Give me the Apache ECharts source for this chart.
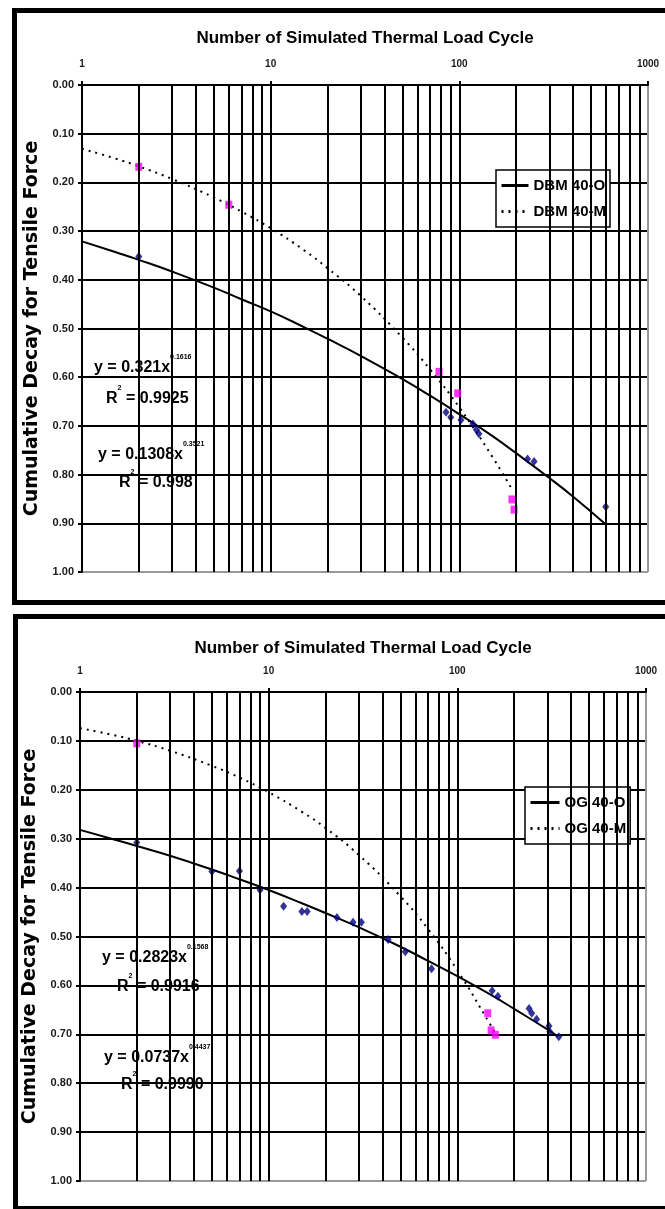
<!DOCTYPE html>
<html>
<head>
<meta charset="utf-8">
<script src="https://cdn.jsdelivr.net/npm/echarts@6/dist/echarts.min.js"></script>
<style>
html,body{margin:0;padding:0;background:#fff;}
#chart{width:665px;height:1209px;}
</style>
</head>
<body>
<div id="chart"></div>
<script>
// ---------- data ----------
const xTitle = 'Number of Simulated Thermal Load Cycle';
const yTitle = 'Cumulative Decay for Tensile Force';
const minorGridX = [2,3,4,5,6,7,8,9,20,30,40,50,60,70,80,90,200,300,400,500,600,700,800,900];

// Panel 1 (DBM)
const dbmONames = 'DBM 40-O';
const dbmMNames = 'DBM 40-M';
const dbmO_points = [[2,0.352],[85,0.672],[90,0.682],[102,0.688],[118,0.696],[123,0.708],[127,0.716],[230,0.768],[249,0.773],[597,0.866]];
const dbmM_points = [[2,0.168],[6,0.246],[78,0.589],[98,0.633],[190,0.851],[195,0.872]];
const dbmO_trend = [[1,0.321],[1.5,0.343],[2,0.359],[3,0.383],[5,0.416],[7,0.440],[10,0.465],[15,0.497],[20,0.521],[30,0.556],[50,0.604],[70,0.638],[100,0.676],[150,0.721],[200,0.756],[300,0.807],[400,0.845],[600,0.903]];
const dbmM_trend = [[1,0.131],[1.5,0.151],[2,0.167],[3,0.193],[5,0.231],[7,0.260],[10,0.294],[15,0.339],[20,0.376],[30,0.433],[50,0.519],[70,0.584],[100,0.662],[150,0.764],[190,0.830]];
const dbmEquations = ['0.321', '0.1616', '0.9925', '0.1308', '0.3521', '0.998'];

// Panel 2 (OG)
const ogONames = 'OG 40-O';
const ogMNames = 'OG 40-M';
const ogO_points = [[2,0.308],[5,0.367],[7,0.366],[9,0.405],[12,0.438],[15,0.449],[16,0.449],[23,0.461],[28,0.471],[31,0.471],[43,0.506],[53,0.531],[73,0.566],[153,0.611],[164,0.622],[240,0.647],[248,0.657],[263,0.669],[306,0.683],[309,0.695],[345,0.705]];
const ogM_points = [[2,0.105],[145,0.657],[151,0.692],[159,0.701]];
const ogO_trend = [[1,0.282],[1.5,0.301],[2,0.315],[3,0.335],[5,0.363],[7,0.383],[10,0.405],[15,0.432],[20,0.452],[30,0.481],[50,0.521],[70,0.550],[100,0.581],[150,0.619],[200,0.648],[300,0.690],[340,0.704]];
const ogM_trend = [[1,0.074],[1.5,0.088],[2,0.100],[3,0.120],[5,0.151],[7,0.175],[10,0.205],[15,0.245],[20,0.278],[30,0.333],[50,0.418],[70,0.485],[100,0.569],[150,0.681],[160,0.700]];
const ogEquations = ['0.2823', '0.1568', '0.9916', '0.0737', '0.4437', '0.9990'];

// ---------- styling ----------
const NARROW = "'Liberation Sans Narrow','Liberation Sans',Arial,sans-serif";
const SANS = "'Liberation Sans',Arial,sans-serif";
const BLUE = '#000080';
const PINK = '#ff00ff';

const grids = [
  {left: 82, top: 85, width: 566, height: 487},
  {left: 80, top: 692, width: 566, height: 489}
];

function xAxisCfg(i, gap){
  return {
    gridIndex: i, type: 'log', logBase: 10, min: 1, max: 1000, position: 'top',
    name: xTitle, nameLocation: 'middle', nameGap: gap,
    nameTextStyle: {fontFamily: SANS, fontSize: 17, fontWeight: 'bold', color: '#000'},
    axisLine: {show: true, lineStyle: {color: '#000', width: 2}},
    axisTick: {show: true, inside: false, length: 4, lineStyle: {color: '#000', width: 2}},
    axisLabel: {fontFamily: NARROW, fontSize: 10, fontWeight: 'bold', color: '#1a1a1a', margin: 16,
      formatter: v => String(Math.round(v))},
    splitLine: {show: true, lineStyle: {color: ['#000','#000','#000','#9a9a9a'], width: 2}},
    minorTick: {show: false}, minorSplitLine: {show: false}
  };
}
function yAxisCfg(i){
  const cols = []; for (let k = 0; k < 10; k++) cols.push('#000'); cols.push('#9a9a9a');
  return {
    gridIndex: i, type: 'value', inverse: true, min: 0, max: 1, interval: 0.1,
    name: yTitle, nameLocation: 'middle', nameGap: 33,
    nameTextStyle: {fontFamily: "'DejaVu Sans',sans-serif", fontSize: 19, fontWeight: 'bold', color: '#000'},
    axisLine: {show: true, lineStyle: {color: '#000', width: 2}},
    axisTick: {show: true, inside: false, length: 4, lineStyle: {color: '#000', width: 2}},
    axisLabel: {fontFamily: NARROW, fontSize: 11, fontWeight: 'bold', color: '#1a1a1a', margin: 8,
      formatter: v => v.toFixed(2)},
    splitLine: {show: true, lineStyle: {color: cols, width: 2}}
  };
}

function panelSeries(i, oName, mName, oPts, mPts, oTrend, mTrend){
  return [
    {type: 'line', xAxisIndex: i, yAxisIndex: i, data: [], z: 1, silent: true,
     markLine: {silent: true, symbol: ['none','none'], label: {show: false},
       lineStyle: {color: '#000', width: 2, type: 'solid'},
       emphasis: {disabled: true},
       data: minorGridX.map(v => ({xAxis: v}))}},
    {name: oName, type: 'line', xAxisIndex: i, yAxisIndex: i, data: oTrend, smooth: true,
     symbol: 'none', z: 3, itemStyle: {color: '#000'}, lineStyle: {color: '#000', width: 2, type: 'solid'}},
    {name: mName, type: 'line', xAxisIndex: i, yAxisIndex: i, data: mTrend, smooth: true,
     symbol: 'none', z: 3, itemStyle: {color: '#000'}, lineStyle: {color: '#000', width: 2, type: [2, 5]}},
    {name: oName + ' data', type: 'scatter', xAxisIndex: i, yAxisIndex: i, data: oPts,
     symbol: 'diamond', symbolSize: [7, 9], z: 4, itemStyle: {color: BLUE}},
    {name: mName + ' data', type: 'scatter', xAxisIndex: i, yAxisIndex: i, data: mPts,
     symbol: 'rect', symbolSize: [7, 8], z: 4, itemStyle: {color: PINK}}
  ];
}

function legendCfg(names, left, top, w){
  return {
    data: names, orient: 'vertical', left: left, top: top,
    backgroundColor: '#fff', borderColor: '#000', borderWidth: 1.5, borderRadius: 0,
    padding: [8, 4, 8, 4], itemGap: 11, itemWidth: w, itemHeight: 12,
    itemStyle: {opacity: 0},
    lineStyle: {width: 3, color: '#000'},
    textStyle: {fontFamily: SANS, fontSize: 15, fontWeight: 'bold', color: '#000'},
    selectedMode: false
  };
}

const RICH = {
  n: {fontFamily: SANS, fontSize: 16, fontWeight: 'bold', fill: '#000', lineHeight: 22, verticalAlign: 'bottom'},
  s: {fontFamily: SANS, fontSize: 7, fontWeight: 'bold', fill: '#000', lineHeight: 8, verticalAlign: 'top'}
};
function eqText(x, y, coef, expo){
  return {type: 'text', x: x, y: y, z: 10, silent: true,
    style: {text: '{n|y = ' + coef + 'x}{s|' + expo + '}', verticalAlign: 'middle', rich: RICH}};
}
function r2Text(x, y, val){
  return {type: 'text', x: x, y: y, z: 10, silent: true,
    style: {text: '{n|R}{s|2}{n| = ' + val + '}', verticalAlign: 'middle', rich: RICH}};
}

const chart = echarts.init(document.getElementById('chart'), null, {renderer: 'canvas'});
chart.setOption({
  animation: false,
  backgroundColor: '#fff',
  grid: grids,
  xAxis: [xAxisCfg(0, 38), xAxisCfg(1, 35)],
  yAxis: [yAxisCfg(0), yAxisCfg(1)],
  legend: [
    legendCfg([dbmONames, dbmMNames], 496, 170, 27),
    legendCfg([ogONames, ogMNames], 525, 787, 29)
  ],
  series: [].concat(
    panelSeries(0, dbmONames, dbmMNames, dbmO_points, dbmM_points, dbmO_trend, dbmM_trend),
    panelSeries(1, ogONames, ogMNames, ogO_points, ogM_points, ogO_trend, ogM_trend)
  ),
  graphic: [
    {type: 'rect', shape: {x: 14.5, y: 10.5, width: 660, height: 592}, z: 20, silent: true,
     style: {fill: null, stroke: '#000', lineWidth: 5}},
    {type: 'rect', shape: {x: 15.5, y: 616.5, width: 660, height: 592}, z: 20, silent: true,
     style: {fill: null, stroke: '#000', lineWidth: 5}},
    eqText(94, 365, dbmEquations[0], dbmEquations[1]),
    r2Text(106, 396, dbmEquations[2]),
    eqText(98, 452, dbmEquations[3], dbmEquations[4]),
    r2Text(119, 480, dbmEquations[5]),
    eqText(102, 955, ogEquations[0], ogEquations[1]),
    r2Text(117, 984, ogEquations[2]),
    eqText(104, 1055, ogEquations[3], ogEquations[4]),
    r2Text(121, 1082, ogEquations[5])
  ]
});
</script>
</body>
</html>
